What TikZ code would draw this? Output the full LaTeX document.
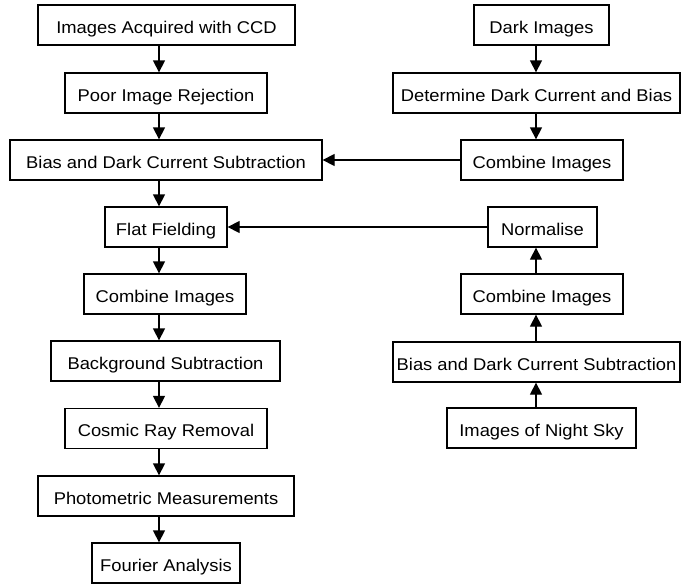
\documentclass[tikz,border=0pt]{standalone}
\usepackage{fontspec}
\setmainfont{Liberation Sans}[FakeStretch=1.08]
\usetikzlibrary{arrows.meta}
\begin{document}
\begin{tikzpicture}[x=1pt,y=-1pt,
  stage/.style={draw, line width=1.3pt, minimum height=40pt, inner sep=0pt,
    text height=16.5pt, text depth=0pt,
    font=\fontsize{17}{19}\selectfont, anchor=center},
  flow/.style={line width=1.3pt, -{Triangle[length=12pt,width=12pt]}}]
\useasboundingbox (0,0) rectangle (681,584);

% axes of the vertical connectors
\coordinate (lx) at (159,0);
\coordinate (rx) at (536,0);

% main reduction chain
\node[stage, minimum width=257pt] (a1) at (166.5,25)  {Images Acquired with CCD};
\node[stage, minimum width=202pt] (a2) at (166,93)    {Poor Image Rejection};
\node[stage, minimum width=312pt] (a3) at (166,160)   {Bias and Dark Current Subtraction};
\node[stage, minimum width=122pt] (a4) at (166,227)   {Flat Fielding};
\node[stage, minimum width=162pt] (a5) at (165,294)   {Combine Images};
\node[stage, minimum width=229pt] (a6) at (165.5,361) {Background Subtraction};
\node[stage, minimum width=202pt] (a7) at (166,428.5) {Cosmic Ray Removal};
\node[stage, minimum width=256pt] (a8) at (166,496)   {Photometric Measurements};
\node[stage, minimum width=148pt] (a9) at (166,563)   {Fourier Analysis};

% dark frames
\node[stage, minimum width=135pt] (b1) at (541.5,25)  {Dark Images};
\node[stage, minimum width=287pt] (b2) at (536.5,93)  {Determine Dark Current and Bias};
\node[stage, minimum width=162pt] (b3) at (542,160)   {Combine Images};

% sky flats
\node[stage, minimum width=109pt] (c1) at (542.5,227) {Normalise};
\node[stage, minimum width=162pt] (c2) at (542,294)   {Combine Images};
\node[stage, minimum width=287pt] (c3) at (536.5,362) {Bias and Dark Current Subtraction};
\node[stage, minimum width=189pt] (c4) at (541.5,428) {Images of Night Sky};

% connectors
\foreach \s/\t in {a1/a2,a2/a3,a3/a4,a4/a5,a5/a6,a6/a7,a7/a8,a8/a9}
  \draw[flow] (\s.south -| lx) -- (\t.north -| lx);
\foreach \s/\t in {b1/b2,b2/b3}
  \draw[flow] (\s.south -| rx) -- (\t.north -| rx);
\foreach \s/\t in {c4/c3,c3/c2,c2/c1}
  \draw[flow] (\s.north -| rx) -- (\t.south -| rx);
\draw[flow] (b3.west) -- (a3.east);
\draw[flow] (c1.west) -- (a4.east);
\end{tikzpicture}
\end{document}
